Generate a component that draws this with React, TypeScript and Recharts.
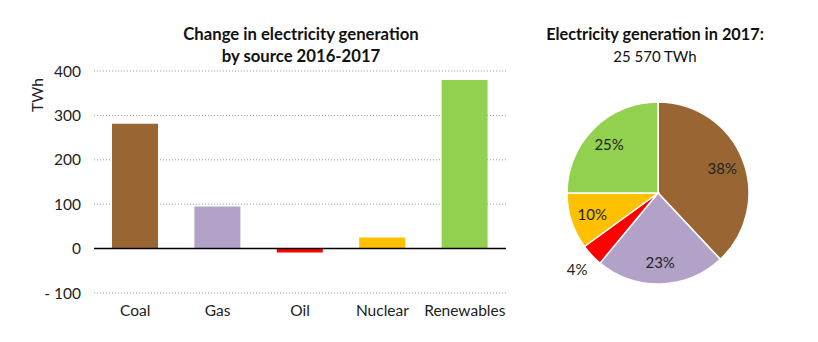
import React from "react";
import { BarChart, Bar, XAxis, YAxis, CartesianGrid, ReferenceLine, Cell, PieChart, Pie, Label } from "recharts";

const categories = ["Coal", "Gas", "Oil", "Nuclear", "Renewables"];
const changeTWh = [281, 95, -9, 25, 380];
const shares2017 = [38, 23, 4, 10, 25];
const colors = ["#996633", "#B3A2C7", "#FF0000", "#FFC000", "#92D050"];
const yTicks = [-100, 0, 100, 200, 300, 400];

const barData = categories.map((name, i) => ({ name, value: changeTWh[i] }));
const pieData = categories.map((name, i) => ({ name, value: shares2017[i] }));

const FONT = "Lato, 'Open Sans', sans-serif";
const RADIAN = Math.PI / 180;

const renderPieLabel = (props: any) => {
  const { cx, cy, midAngle, outerRadius, value, index } = props;
  const r = index === 2 ? outerRadius * 1.22 : outerRadius * 0.76;
  const x = cx + r * Math.cos(-midAngle * RADIAN);
  const y = cy + r * Math.sin(-midAngle * RADIAN);
  return (
    <text x={x} y={y} textAnchor="middle" dominantBaseline="central" fill="#222" fontSize={15} fontFamily={FONT}>
      {`${value}%`}
    </text>
  );
};

export default function App() {
  return (
    <div style={{ position: "absolute", left: 0, top: 0, width: 818, height: 342, background: "#fff", fontFamily: FONT }}>
      <div style={{ position: "absolute", left: 150, width: 302, top: 23, textAlign: "center", fontWeight: 700, fontSize: 16.7, lineHeight: "22px", color: "#111" }}>
        Change in electricity generation<br />by source 2016-2017
      </div>
      <div style={{ position: "absolute", left: 530, width: 250, top: 23, textAlign: "center", fontSize: 15, lineHeight: "22px", color: "#111" }}>
        <span style={{ fontWeight: 700, fontSize: 16.3 }}>Electricity generation in 2017:</span><br />25 570 TWh
      </div>
      <div style={{ position: "absolute", left: 0, top: 0 }}>
        <BarChart width={540} height={342} data={barData} margin={{ top: 71, right: 34, bottom: 19, left: 34 }} barSize={46}>
          <CartesianGrid vertical={false} stroke="#999" strokeDasharray="1 2" />
          <XAxis dataKey="name" axisLine={false} tickLine={false} height={30} tickMargin={6} tick={{ fill: "#222", fontSize: 15.5, fontFamily: FONT }} interval={0} />
          <YAxis width={60} domain={[-100, 400]} ticks={yTicks} axisLine={false} tickLine={false} tickMargin={7}
            tick={{ fill: "#222", fontSize: 15.5, fontFamily: FONT }}
            tickFormatter={(v: number) => (v < 0 ? `- ${Math.abs(v)}` : `${v}`)}>
            <Label value="TWh" angle={-90} position="insideLeft" offset={3} dy={-87} style={{ fill: "#222", fontSize: 15.5, fontFamily: FONT, textAnchor: "middle" }} />
          </YAxis>
          <ReferenceLine y={0} stroke="#000" strokeWidth={1.5} />
          <Bar dataKey="value" isAnimationActive={false}>
            {barData.map((d, i) => (
              <Cell key={d.name} fill={colors[i]} />
            ))}
          </Bar>
        </BarChart>
      </div>
      <div style={{ position: "absolute", left: 520, top: 0 }}>
        <PieChart width={298} height={342}>
          <Pie data={pieData} dataKey="value" nameKey="name" cx={133} cy={188} outerRadius={91} startAngle={90} endAngle={-270}
            stroke="#fff" strokeWidth={1.5} label={renderPieLabel} labelLine={false} isAnimationActive={false}>
            {pieData.map((d, i) => (
              <Cell key={d.name} fill={colors[i]} />
            ))}
          </Pie>
        </PieChart>
      </div>
    </div>
  );
}
